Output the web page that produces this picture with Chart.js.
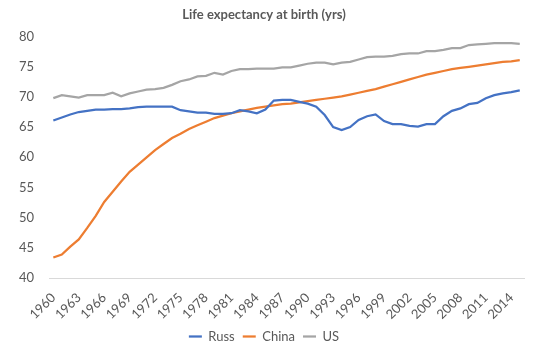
<!DOCTYPE html>
<html>
<head>
<meta charset="utf-8">
<script src="https://cdn.jsdelivr.net/npm/chart.js@4"></script>
<style>
  html, body { margin: 0; padding: 0; background: #ffffff; }
  #wrap { width: 540px; height: 353px; }
</style>
</head>
<body>
<div id="wrap"><canvas id="lifeChart" width="540" height="353"></canvas></div>
<script>
// DATA

const years = [];
for (let y = 1960; y <= 2015; y++) years.push(String(y));

const russ = [
    66.1, 66.6, 67.1, 67.5, 67.7, 67.9, 67.9, 68.0, 68.0, 68.1,
    68.3, 68.4, 68.4, 68.4, 68.4, 67.8, 67.6, 67.4, 67.4, 67.2,
    67.2, 67.3, 67.8, 67.6, 67.3, 67.9, 69.4, 69.5, 69.5, 69.2,
    68.9, 68.4, 67.0, 65.0, 64.5, 65.0, 66.2, 66.8, 67.1, 66.0,
    65.5, 65.5, 65.2, 65.1, 65.5, 65.5, 66.8, 67.7, 68.1, 68.8,
    69.0, 69.8, 70.3, 70.6, 70.8, 71.1
];

const china = [
    43.4, 43.9, 45.2, 46.4, 48.3, 50.3, 52.6, 54.3, 56.0, 57.6,
    58.8, 60.0, 61.2, 62.2, 63.2, 63.9, 64.7, 65.3, 65.9, 66.5,
    66.9, 67.3, 67.6, 67.9, 68.2, 68.4, 68.6, 68.8, 68.9, 69.1,
    69.3, 69.5, 69.7, 69.9, 70.1, 70.4, 70.7, 71.0, 71.3, 71.7,
    72.1, 72.5, 72.9, 73.3, 73.7, 74.0, 74.3, 74.6, 74.8, 75.0,
    75.2, 75.4, 75.6, 75.8, 75.9, 76.1
];

const us = [
    69.8, 70.3, 70.1, 69.9, 70.3, 70.3, 70.3, 70.7, 70.1, 70.6,
    70.9, 71.2, 71.3, 71.5, 72.0, 72.6, 72.9, 73.4, 73.5, 74.0,
    73.7, 74.3, 74.6, 74.6, 74.7, 74.7, 74.7, 74.9, 74.9, 75.2,
    75.5, 75.7, 75.7, 75.4, 75.7, 75.8, 76.2, 76.6, 76.7, 76.7,
    76.8, 77.1, 77.2, 77.2, 77.6, 77.6, 77.8, 78.1, 78.1, 78.6,
    78.7, 78.8, 78.9, 78.9, 78.9, 78.8
];

const seriesNames = ["Russ", "China", "US"];
const seriesColors = ["#4472c4", "#ed7d31", "#a5a5a5"];

// CHART

const textColor = "#595959";
const fontFamily = "Lato, 'Liberation Sans', sans-serif";

const ctx = document.getElementById("lifeChart");

new Chart(ctx, {
    type: "line",
    data: {
        labels: years,
        datasets: [russ, china, us].map((values, i) => ({
            label: seriesNames[i],
            data: values,
            borderColor: seriesColors[i],
            backgroundColor: seriesColors[i],
            borderWidth: 2.25,
            pointRadius: 0,
            pointStyle: "line",
            tension: 0
        }))
    },
    options: {
        responsive: false,
        animation: false,
        layout: {
            padding: { left: 4, right: 16, top: 0, bottom: 0 }
        },
        scales: {
            x: {
                offset: true,
                grid: { display: false, drawTicks: false },
                border: { display: true, color: "#d9d9d9", width: 1 },
                ticks: {
                    color: textColor,
                    font: { family: fontFamily, size: 13 },
                    autoSkip: false,
                    minRotation: 45,
                    maxRotation: 45,
                    padding: 12,
                    callback: function (value, index) {
                        return index % 3 === 0 ? this.getLabelForValue(value) : "";
                    }
                },
                // keep the axis box short so the legend sits close under the labels
                afterFit: function (scale) {
                    scale.height = 44;
                    scale.paddingLeft = 0;
                    scale.paddingRight = 0;
                }
            },
            y: {
                min: 40,
                max: 80,
                grid: { display: false, drawTicks: false },
                border: { display: false },
                ticks: {
                    stepSize: 5,
                    color: textColor,
                    font: { family: fontFamily, size: 13 },
                    padding: 15
                }
            }
        },
        plugins: {
            title: {
                display: true,
                text: "Life expectancy at birth (yrs)",
                color: textColor,
                font: { family: fontFamily, size: 13, weight: "bold" },
                padding: { top: 7, bottom: 14 }
            },
            legend: {
                position: "bottom",
                labels: {
                    color: textColor,
                    font: { family: fontFamily, size: 13 },
                    usePointStyle: true,
                    pointStyleWidth: 13,
                    boxHeight: 2,
                    padding: 8
                }
            },
            tooltip: { enabled: false }
        }
    }
});
</script>
</body>
</html>
